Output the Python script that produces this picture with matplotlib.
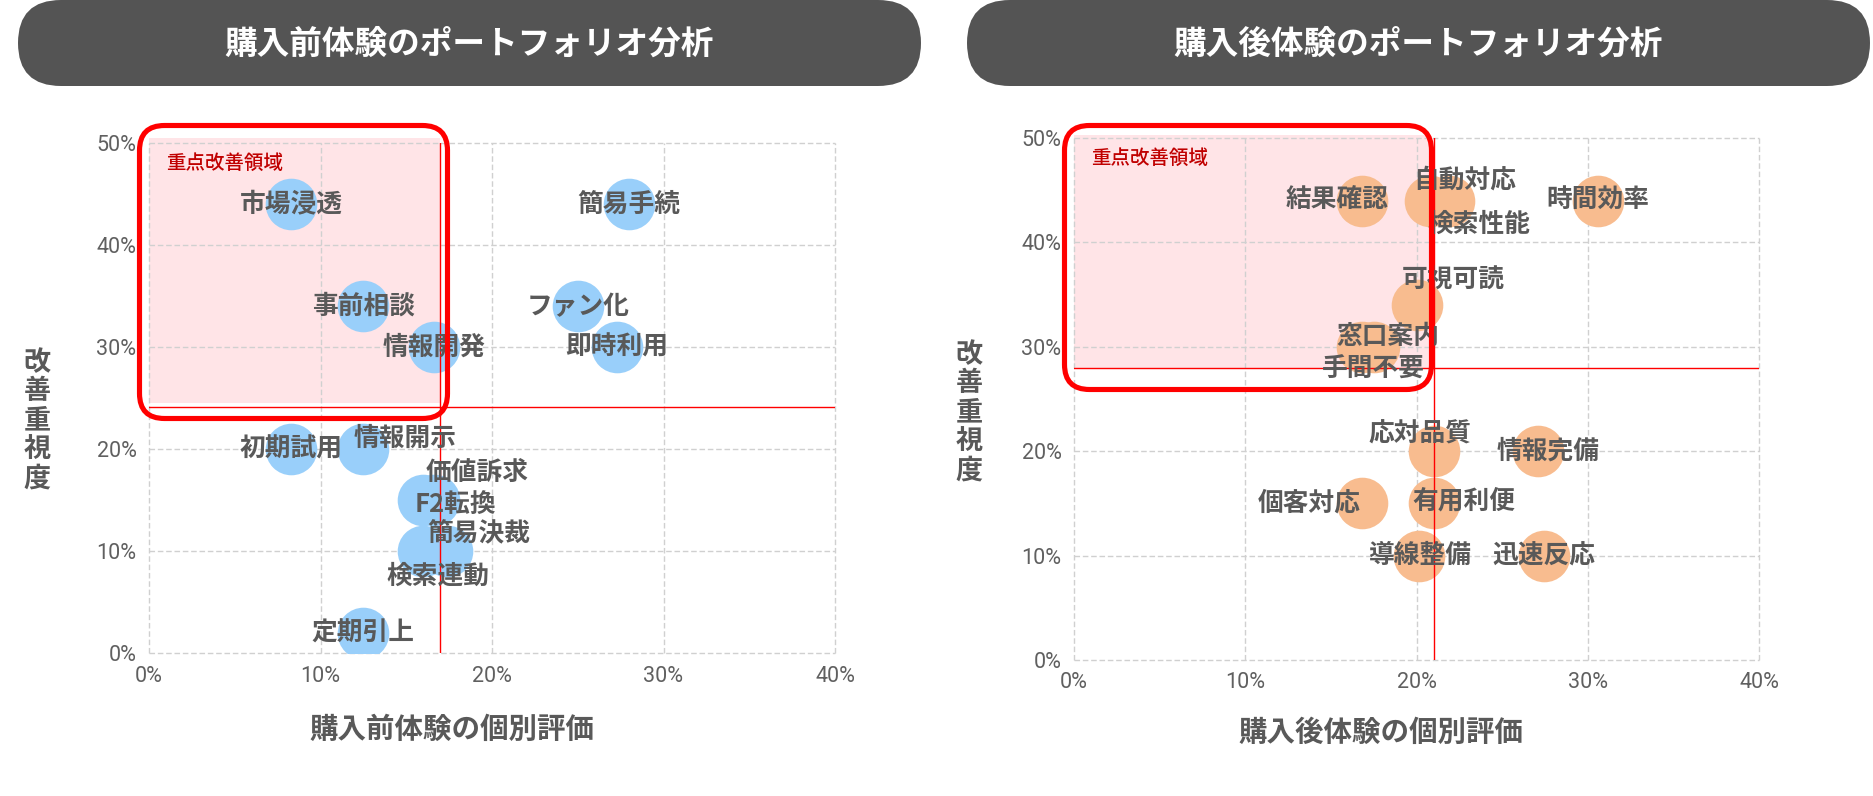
import matplotlib
matplotlib.use("Agg")
import matplotlib.pyplot as plt
from matplotlib.patches import FancyBboxPatch, Rectangle
from matplotlib.transforms import IdentityTransform
from matplotlib.ticker import PercentFormatter

plt.rcParams['font.family'] = ['Noto Sans CJK JP', 'DejaVu Sans']

# --- data (values in %) ---
pre_title = "購入前体験のポートフォリオ分析"
pre_xlabel = "購入前体験の個別評価"
pre_names = ["市場浸透", "簡易手続", "事前相談", "情報開発", "ファン化", "即時利用",
             "初期試用", "情報開示", "価値訴求", "F2転換", "簡易決裁", "検索連動", "定期引上"]
pre_x = [8.3, 28.0, 12.5, 16.6, 25.0, 27.3, 8.3, 12.5, 16.6, 16.0, 17.4, 16.0, 12.5]
pre_y = [44, 44, 34, 30, 34, 30, 20, 20, 15, 15, 10, 10, 2]
pre_x_thr = 16.95
pre_y_thr = 24.1

post_title = "購入後体験のポートフォリオ分析"
post_xlabel = "購入後体験の個別評価"
post_names = ["結果確認", "自動対応", "検索性能", "時間効率", "可視可読", "窓口案内", "手間不要",
              "応対品質", "情報完備", "個客対応", "有用利便", "導線整備", "迅速反応"]
post_x = [16.8, 20.8, 21.9, 30.6, 20.0, 16.8, 17.5, 21.0, 27.1, 16.8, 21.0, 20.15, 27.45]
post_y = [44, 44, 44, 44, 34, 30, 30, 20, 20, 15, 15, 10, 10]
post_x_thr = 21.0
post_y_thr = 28.0

ylabel = "改善重視度"
zone_label = "重点改善領域"
x_ticks = [0, 10, 20, 30, 40]
y_ticks = [0, 10, 20, 30, 40, 50]

# label offsets in pixels (dx, dy up), everything else is centred on the bubble
pre_offsets = {"情報開示": (42, 11), "価値訴求": (43, 28), "F2転換": (32, -4),
               "簡易決裁": (31, 18), "検索連動": (15, -25)}
post_offsets = {"結果確認": (-25, 0), "自動対応": (35, 21), "検索性能": (30, -24),
                "可視可読": (37, 25), "窓口案内": (26, 10), "手間不要": (0, -22),
                "応対品質": (-14, 17), "情報完備": (10, 0), "個客対応": (-52, 0),
                "有用利便": (30, 2)}

TEXT = "#595959"
W, H = 1874, 796


def px_box(fig, left, top, right, bottom, radius, **kw):
    p = FancyBboxPatch((left, H - bottom), right - left, bottom - top,
                       boxstyle=f"round,pad=0,rounding_size={radius}",
                       transform=IdentityTransform(), **kw)
    fig.add_artist(p)


def plot_portfolio(ax, names, xs, ys, offsets, color, x_thr, y_thr, pink_x, pink_y):
    ax.set_xlim(0, 40)
    ax.set_ylim(0, 50)
    ax.add_patch(Rectangle((0, pink_y[0]), pink_x, pink_y[1] - pink_y[0],
                           fc="#FFE4E7", ec="none", zorder=0.2, clip_on=False))
    ax.set_axisbelow(True)
    ax.grid(True, color="#D0D0D0", linestyle=(0, (4, 2)), lw=1)
    for ln in ax.get_xgridlines() + ax.get_ygridlines():
        ln.set_clip_on(False)
    for s in ax.spines.values():
        s.set_visible(False)
    ax.set_xticks(x_ticks)
    ax.set_yticks(y_ticks)
    ax.xaxis.set_major_formatter(PercentFormatter(xmax=100, decimals=0))
    ax.yaxis.set_major_formatter(PercentFormatter(xmax=100, decimals=0))
    ax.tick_params(length=0, pad=9, labelsize=15.5, labelcolor="#606060")
    for t in ax.get_xticklabels() + ax.get_yticklabels():
        t.set_fontfamily("Roboto")

    ax.scatter(xs, ys, s=1380, c=color, linewidths=0, zorder=2)
    ax.axvline(x_thr, color="#FF0000", lw=1, zorder=3)
    ax.axhline(y_thr, color="#FF0000", lw=1, zorder=3)
    for name, x, y in zip(names, xs, ys):
        dx, dy = offsets.get(name, (0, 0))
        ax.annotate(name, (x, y), xytext=(dx, dy), textcoords="offset pixels",
                    ha="center", va="center", fontsize=18.5, fontweight="bold",
                    color=TEXT, zorder=5)
    ax.text(1.0, 48.0, zone_label, ha="left", va="center", fontsize=14,
            fontweight="medium", color="#C00000", zorder=5)


fig = plt.figure(figsize=(W / 100, H / 100), dpi=100)
ax1 = fig.add_axes([149 / W, 1 - 653 / H, 686 / W, 510 / H])
ax2 = fig.add_axes([1074 / W, 1 - 660 / H, 685 / W, 522 / H])

plot_portfolio(ax1, pre_names, pre_x, pre_y, pre_offsets, "#99CFFA",
               pre_x_thr, pre_y_thr, pre_x_thr, (24.5, 50.5))
plot_portfolio(ax2, post_names, post_x, post_y, post_offsets, "#F8BC8F",
               post_x_thr, post_y_thr, 20.8, (post_y_thr, 50.3))

# title banners
for left, right, title in [(18, 921, pre_title), (967, 1870, post_title)]:
    px_box(fig, left, 0, right, 86, 43, fc="#545454", ec="none")
    fig.text((left + right) / 2 / W, 1 - 44 / H, title, ha="center", va="center",
             fontsize=23.5, fontweight="bold", color="white")

# red focus boxes
px_box(fig, 139.5, 125.5, 447.5, 418.5, 25, fc="none", ec="#FF0000", lw=3.7, zorder=4)
px_box(fig, 1064.5, 125.5, 1431.5, 389.5, 25, fc="none", ec="#FF0000", lw=3.7, zorder=4)

# axis labels
for cx, cy, txt in [(452, 730, pre_xlabel), (1381, 733, post_xlabel)]:
    fig.text(cx / W, 1 - cy / H, txt, ha="center", va="center", fontsize=20.5,
             fontweight="bold", color=TEXT)
for cx, cy in [(37, 420), (969, 412)]:
    fig.text(cx / W, 1 - cy / H, "\n".join(ylabel), ha="center", va="center",
             fontsize=19.5, fontweight="bold", color=TEXT, linespacing=1.05)

fig.savefig("out.png", dpi=100)
